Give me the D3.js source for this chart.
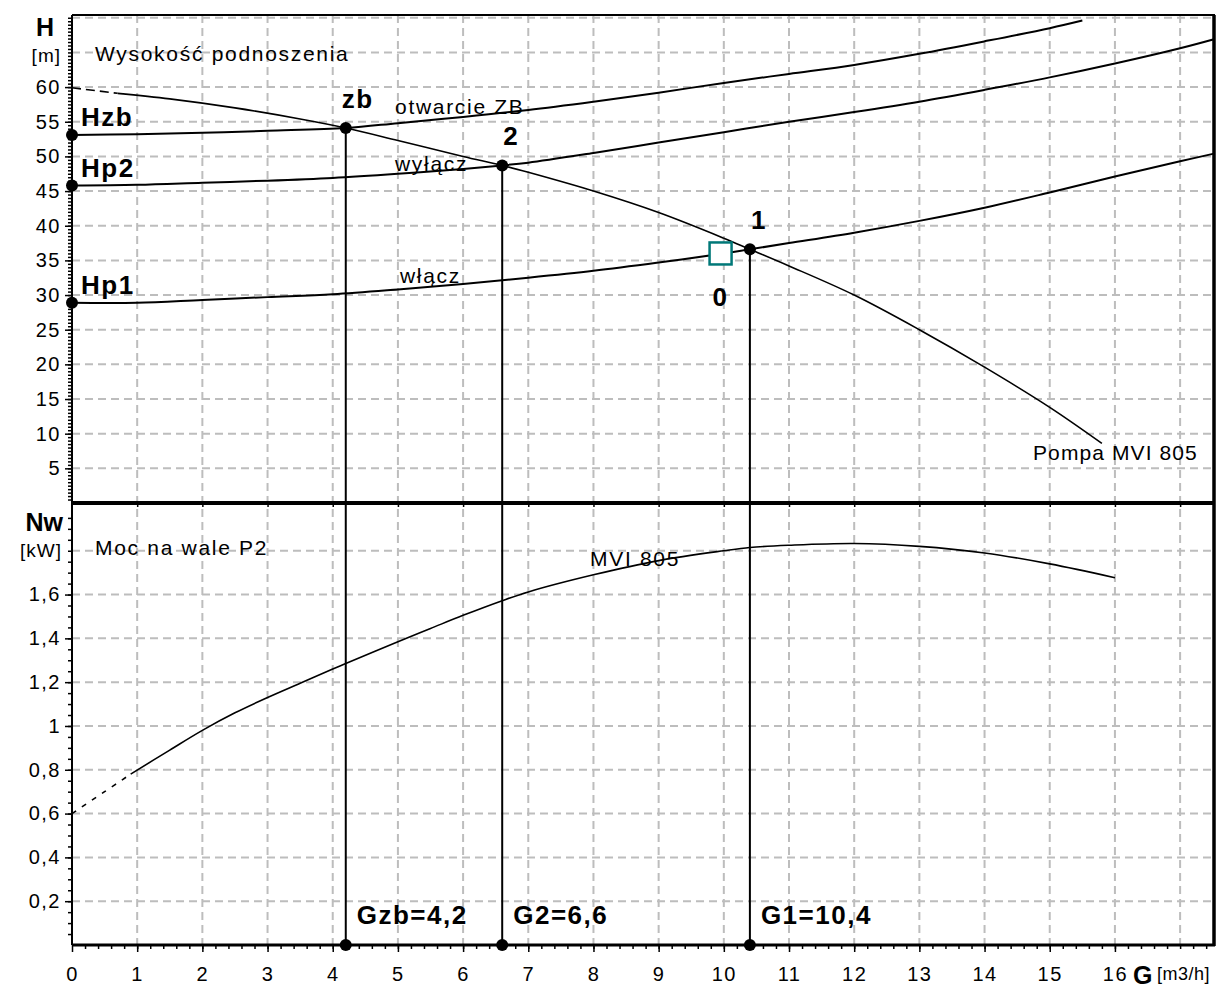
<!DOCTYPE html>
<html lang="pl">
<head>
<meta charset="UTF-8">
<title>Pompa MVI 805</title>
<script src="https://cdnjs.cloudflare.com/ajax/libs/d3/7.8.5/d3.min.js"></script>
<style>
  body { margin: 0; background: #fff; }
  svg { display: block; font-family: "Liberation Sans", Arial, sans-serif; }
  .axis path { display: none; }
  .axis line { stroke: #000; stroke-width: 1.5; }
  .axis text { font-size: 20px; letter-spacing: 1.5px; fill: #000; font-family: "Liberation Sans", Arial, sans-serif; }
  .lbl { font-size: 21px; letter-spacing: 1.7px; }
  .big { font-size: 26px; font-weight: bold; letter-spacing: 1.5px; }
</style>
</head>
<body>
<svg id="chart" width="1231" height="988"></svg>
<script>
// ticks
const xTicks = [0, 1, 2, 3, 4, 5, 6, 7, 8, 9, 10, 11, 12, 13, 14, 15, 16];
const hTicks = [5, 10, 15, 20, 25, 30, 35, 40, 45, 50, 55, 60];
const nwTicks = [0.2, 0.4, 0.6, 0.8, 1, 1.2, 1.4, 1.6];
const nwTickLabels = ['0,2', '0,4', '0,6', '0,8', '1', '1,2', '1,4', '1,6'];

// pump curve H(G)
const pumpG = [0, 0.7, 1.5, 2.5, 3.5, 4.2, 5, 6, 6.6, 7, 8, 9, 10, 10.4, 11, 12, 13, 14, 15, 15.8];
const pumpH = [59.9, 59.1, 58.3, 57.0, 55.4, 54.1, 52.3, 50.0, 48.7, 47.7, 45.0, 41.9, 38.2, 36.6, 34.2, 30.0, 25.0, 19.6, 13.8, 8.6];

// system curves
const wlaczG = [0, 1, 2, 3, 4, 5, 6, 7, 8, 9, 10, 10.4, 11, 12, 13, 14, 15, 16, 17, 17.52];
const wlaczH = [28.9, 28.9, 29.3, 29.7, 30.1, 30.8, 31.6, 32.5, 33.5, 34.7, 36.0, 36.6, 37.5, 39.0, 40.7, 42.6, 44.8, 47.1, 49.3, 50.4];
const wylaczG = [0, 1, 2, 3, 4, 5, 6, 6.6, 7, 8, 9, 10, 11, 12, 13, 14, 15, 16, 17, 17.52];
const wylaczH = [45.8, 45.9, 46.2, 46.5, 46.9, 47.5, 48.2, 48.7, 49.1, 50.5, 52.0, 53.5, 55.0, 56.4, 57.9, 59.6, 61.4, 63.4, 65.6, 66.9];
const zbG = [0, 1, 2, 3, 4.2, 5, 6, 7, 8, 9, 10, 11, 12, 13, 14, 15, 15.5];
const zbH = [53.1, 53.2, 53.4, 53.7, 54.1, 54.8, 55.7, 56.7, 57.9, 59.2, 60.6, 61.9, 63.2, 64.8, 66.6, 68.5, 69.6];

// shaft power Nw(G)
const nwG = [0, 0.5, 0.9, 1.5, 2, 2.5, 3, 3.5, 4, 4.2, 5, 5.5, 6, 6.6, 7, 8, 9, 10, 10.4, 11, 12, 13, 14, 15, 16];
const nwV = [0.60, 0.70, 0.78, 0.89, 0.98, 1.06, 1.13, 1.195, 1.26, 1.285, 1.385, 1.445, 1.505, 1.572, 1.612, 1.69, 1.755, 1.80, 1.815, 1.825, 1.833, 1.82, 1.79, 1.74, 1.677];

// operating points
const pointNames = ['zb', '2', '1'];
const pointG = [4.2, 6.6, 10.4];
const pointH = [54.1, 48.7, 36.6];
const pointLabels = ['Gzb=4,2', 'G2=6,6', 'G1=10,4'];
const startNames = ['Hzb', 'Hp2', 'Hp1'];
const startH = [53.1, 45.8, 28.9];
const opG = 9.95, opH = 36.0;

const svg = d3.select('#chart');
const pLeft = 72, pRight = 1214, pTop = 15, pMid = 503, pBottom = 945;

const x = d3.scaleLinear().domain([0, 17.52]).range([pLeft, pRight]);
const yH = d3.scaleLinear().domain([0, 70.4]).range([pMid, pTop]);
const yN = d3.scaleLinear().domain([0, 2.018]).range([pBottom, pMid]);

svg.append('rect').attr('width', 1231).attr('height', 988).attr('fill', '#fff');

// grid
const grid = svg.append('g')
  .attr('stroke', '#bdbdbd').attr('stroke-width', 2).attr('stroke-dasharray', '8 5');
grid.selectAll('line.vx').data(d3.range(1, 18)).enter().append('line').attr('class', 'vx')
  .attr('x1', d => x(d)).attr('x2', d => x(d)).attr('y1', pTop).attr('y2', pBottom);
grid.selectAll('line.hh').data(hTicks.concat([65, 70])).enter().append('line').attr('class', 'hh')
  .attr('x1', pLeft).attr('x2', pRight).attr('y1', d => yH(d)).attr('y2', d => yH(d));
grid.selectAll('line.hn').data(nwTicks.concat([1.8])).enter().append('line').attr('class', 'hn')
  .attr('x1', pLeft).attr('x2', pRight).attr('y1', d => yN(d)).attr('y2', d => yN(d));

// axes
const minorH = d3.range(0.5, 70.3, 0.5);
svg.append('g').attr('class', 'axis').attr('transform', `translate(${pLeft},0)`)
  .call(d3.axisLeft(yH).tickValues(minorH).tickSize(4).tickFormat(''));
svg.append('g').attr('class', 'axis').attr('transform', `translate(${pLeft},0)`)
  .call(d3.axisLeft(yH).tickValues(hTicks).tickSize(7).tickPadding(4));

const minorN = d3.range(0.05, 2.0, 0.05);
svg.append('g').attr('class', 'axis').attr('transform', `translate(${pLeft},0)`)
  .call(d3.axisLeft(yN).tickValues(minorN).tickSize(4).tickFormat(''));
svg.append('g').attr('class', 'axis').attr('transform', `translate(${pLeft},0)`)
  .call(d3.axisLeft(yN).tickValues(nwTicks).tickSize(7).tickPadding(4)
    .tickFormat((d, i) => nwTickLabels[i]));

const minorX = d3.range(0.2, 17.5, 0.2);
svg.append('g').attr('class', 'axis').attr('transform', `translate(0,${pBottom})`)
  .call(d3.axisBottom(x).tickValues(minorX).tickSize(4).tickFormat(''));
svg.append('g').attr('class', 'axis').attr('transform', `translate(0,${pBottom})`)
  .call(d3.axisBottom(x).tickValues(xTicks).tickSize(7).tickPadding(15));
svg.append('g').attr('class', 'axis').attr('transform', `translate(0,${pMid})`)
  .call(d3.axisBottom(x).tickValues(d3.range(1, 18)).tickSize(4).tickFormat(''));

// frame
svg.append('line').attr('x1', pLeft).attr('x2', pLeft).attr('y1', pTop).attr('y2', pBottom)
  .attr('stroke', '#000').attr('stroke-width', 2);
svg.append('line').attr('x1', pLeft).attr('x2', pRight + 1).attr('y1', pTop).attr('y2', pTop)
  .attr('stroke', '#000').attr('stroke-width', 2);
svg.append('line').attr('x1', pRight).attr('x2', pRight).attr('y1', pTop).attr('y2', pBottom + 1)
  .attr('stroke', '#000').attr('stroke-width', 3.5);
svg.append('line').attr('x1', pLeft).attr('x2', pRight).attr('y1', pMid).attr('y2', pMid)
  .attr('stroke', '#000').attr('stroke-width', 4);
svg.append('line').attr('x1', pLeft).attr('x2', pRight + 1).attr('y1', pBottom).attr('y2', pBottom)
  .attr('stroke', '#000').attr('stroke-width', 3);

// curves
const lineH = d3.line().x(d => x(d[0])).y(d => yH(d[1])).curve(d3.curveCatmullRom);
const lineN = d3.line().x(d => x(d[0])).y(d => yN(d[1])).curve(d3.curveCatmullRom);

function drawSplit(gs, vs, cut, gen, width, dash) {
  const pts = gs.map((g, i) => [g, vs[i]]);
  svg.append('path').datum(pts.filter(p => p[0] <= cut)).attr('d', gen)
    .attr('fill', 'none').attr('stroke', '#000').attr('stroke-width', width)
    .attr('stroke-dasharray', dash);
  svg.append('path').datum(pts.filter(p => p[0] >= cut)).attr('d', gen)
    .attr('fill', 'none').attr('stroke', '#000').attr('stroke-width', width);
}

[[wlaczG, wlaczH], [wylaczG, wylaczH], [zbG, zbH]].forEach(([gs, hs]) => {
  svg.append('path').datum(gs.map((g, i) => [g, hs[i]])).attr('d', lineH)
    .attr('fill', 'none').attr('stroke', '#000').attr('stroke-width', 2);
});
drawSplit(pumpG, pumpH, 0.7, lineH, 1.6, '9,5');
drawSplit(nwG, nwV, 0.9, lineN, 1.6, '5,7');

// vertical drop lines
pointG.forEach((g, i) => {
  svg.append('line').attr('x1', x(g)).attr('x2', x(g)).attr('y1', yH(pointH[i])).attr('y2', pBottom)
    .attr('stroke', '#000').attr('stroke-width', 2);
});

// dots
const dots = pointG.map((g, i) => [x(g), yH(pointH[i])])
  .concat(pointG.map(g => [x(g), yN(0)]))
  .concat(startH.map(h => [x(0), yH(h)]));
svg.selectAll('.dot').data(dots).enter().append('circle')
  .attr('cx', d => d[0]).attr('cy', d => d[1]).attr('r', 6).attr('fill', '#000');

// operating point square
svg.append('rect').attr('x', x(opG) - 11).attr('y', yH(opH) - 11)
  .attr('width', 22).attr('height', 22)
  .attr('fill', '#fff').attr('stroke', '#007878').attr('stroke-width', 2.5);

// texts
function txt(t, px, py, cls, anchor) {
  return svg.append('text').attr('x', px).attr('y', py).attr('class', cls)
    .attr('text-anchor', anchor || 'start').text(t);
}
txt('Wysokość podnoszenia', 95, 61, 'lbl');
txt('otwarcie ZB', 395, 114, 'lbl');
txt('wyłącz', 395, 171, 'lbl');
txt('włącz', 400, 283, 'lbl');
txt('Pompa MVI 805', 1033, 460, 'lbl').style('letter-spacing', '1.1px');
txt('Moc na wale P2', 95, 555, 'lbl');
txt('MVI 805', 590, 566, 'lbl');

pointNames.forEach((n, i) => {
  txt(n, x(pointG[i]) + (i === 0 ? 12 : 9), yH(pointH[i]) - 20, 'big', 'middle');
});
pointLabels.forEach((n, i) => {
  txt(n, x(pointG[i]) + 11, 924, 'big');
});
startNames.forEach((n, i) => {
  txt(n, x(0) + 9, yH(startH[i]) - 9, 'big');
});
txt('0', x(opG), yH(opH) + 53, 'big', 'middle');

// axis titles
svg.append('text').attr('x', 54).attr('y', 36).attr('text-anchor', 'end')
  .style('font-size', '25px').style('font-weight', 'bold').text('H');
svg.append('text').attr('x', 61).attr('y', 62).attr('text-anchor', 'end')
  .style('font-size', '19px').style('letter-spacing', '1px').text('[m]');
svg.append('text').attr('x', 63).attr('y', 531).attr('text-anchor', 'end')
  .style('font-size', '25px').style('font-weight', 'bold').text('Nw');
svg.append('text').attr('x', 62).attr('y', 557).attr('text-anchor', 'end')
  .style('font-size', '19px').style('letter-spacing', '1px').text('[kW]');
svg.append('text').attr('x', 1133).attr('y', 984)
  .style('font-size', '25px').style('font-weight', 'bold').text('G');
svg.append('text').attr('x', 1157).attr('y', 980)
  .style('font-size', '18px').style('letter-spacing', '0.5px').text('[m3/h]');
</script>
</body>
</html>
